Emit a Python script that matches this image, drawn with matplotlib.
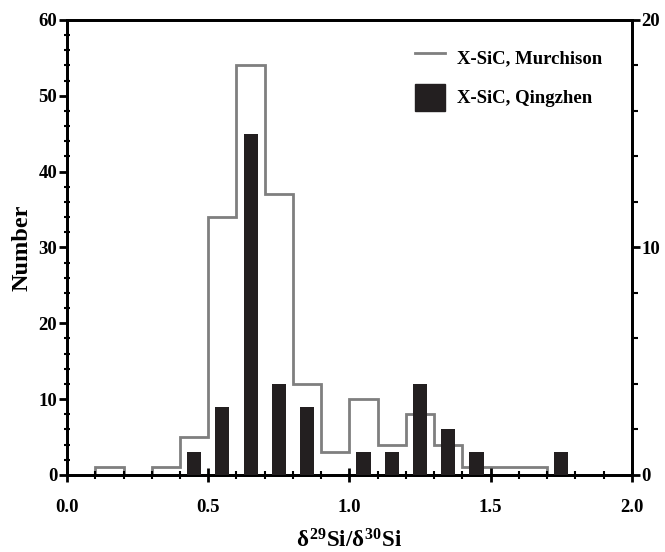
import matplotlib.pyplot as plt
import numpy as np
from matplotlib.ticker import MultipleLocator
from matplotlib.lines import Line2D
from matplotlib.patches import Patch

#-------------------------------data-------------------------------
# Murchison histogram (left axis), bins of 0.1
murch_edges = [0.1, 0.2, 0.3, 0.4, 0.5, 0.6, 0.7, 0.8, 0.9, 1.0,
               1.1, 1.2, 1.3, 1.4, 1.5, 1.6, 1.7]
murch_counts = [1, 0, 1, 5, 34, 54, 37, 12, 3, 10, 4, 8, 4, 1, 1, 1]

# Qingzhen grains (right axis)
qz_centers = [0.45, 0.55, 0.65, 0.75, 0.85, 1.05, 1.15, 1.25, 1.35, 1.45, 1.75]
qz_counts = [1, 3, 15, 4, 3, 1, 1, 4, 2, 1, 1]

#-------------------------------plot-------------------------------
plt.rcParams['font.family'] = ['Liberation Serif', 'DejaVu Serif']
plt.rcParams['font.weight'] = 'bold'
plt.rcParams['mathtext.fontset'] = 'custom'
plt.rcParams['mathtext.rm'] = 'Liberation Serif:bold'
plt.rcParams['mathtext.it'] = 'Liberation Serif'
plt.rcParams['mathtext.bf'] = 'Liberation Serif:bold'

DPI = 100
fig = plt.figure(figsize=(665/DPI, 552/DPI), dpi=DPI)
ax = fig.add_axes([0.1008, 0.1395, 0.8492, 0.8243])
ax2 = ax.twinx()

ax.stairs(murch_counts, murch_edges, color='#7f7f7f', lw=2, baseline=0)
ax2.bar(qz_centers, qz_counts, width=0.05, color='#231f20', zorder=3)

ax.set_xlim(0, 2.0)
ax.set_ylim(0, 60)
ax2.set_ylim(0, 20)

ax.xaxis.set_major_locator(MultipleLocator(0.5))
ax.xaxis.set_minor_locator(MultipleLocator(0.1))
ax.yaxis.set_major_locator(MultipleLocator(10))
ax.yaxis.set_minor_locator(MultipleLocator(2))
ax2.yaxis.set_major_locator(MultipleLocator(10))
ax2.yaxis.set_minor_locator(MultipleLocator(2))
ax.xaxis.set_major_formatter(plt.FormatStrFormatter('%.1f'))

for a in (ax, ax2):
    for s in a.spines.values():
        s.set_linewidth(2)
ax.tick_params(axis='x', which='major', direction='inout', length=10, width=2, labelsize=13.5, pad=12)
ax.tick_params(axis='x', which='minor', direction='inout', length=6, width=1.5)
ax.tick_params(axis='y', which='major', direction='out', length=6, width=2, labelsize=13.5, pad=1)
ax.tick_params(axis='y', which='minor', direction='inout', length=5, width=1.5)
ax2.tick_params(axis='y', which='major', direction='out', length=6, width=2, labelsize=13.5, pad=1)
ax2.tick_params(axis='y', which='minor', direction='out', length=4, width=1.5)

ax.set_xlabel(r'$\delta^{29}$Si/$\delta^{30}$Si', fontsize=16.5, fontweight='bold', labelpad=10)
ax.set_ylabel('Number', fontsize=17.5, fontweight='bold', labelpad=4)

handles = [Line2D([], [], color='#7f7f7f', lw=2),
           Patch(facecolor='#231f20', edgecolor='#231f20')]
ax2.legend(handles, ['X-SiC, Murchison', 'X-SiC, Qingzhen'], loc='upper right',
           frameon=False, fontsize=13.5, bbox_to_anchor=(0.978, 0.986),
           handlelength=1.6, handleheight=1.84, labelspacing=0.72, handletextpad=0.65)

plt.savefig('out.png', dpi=DPI)
